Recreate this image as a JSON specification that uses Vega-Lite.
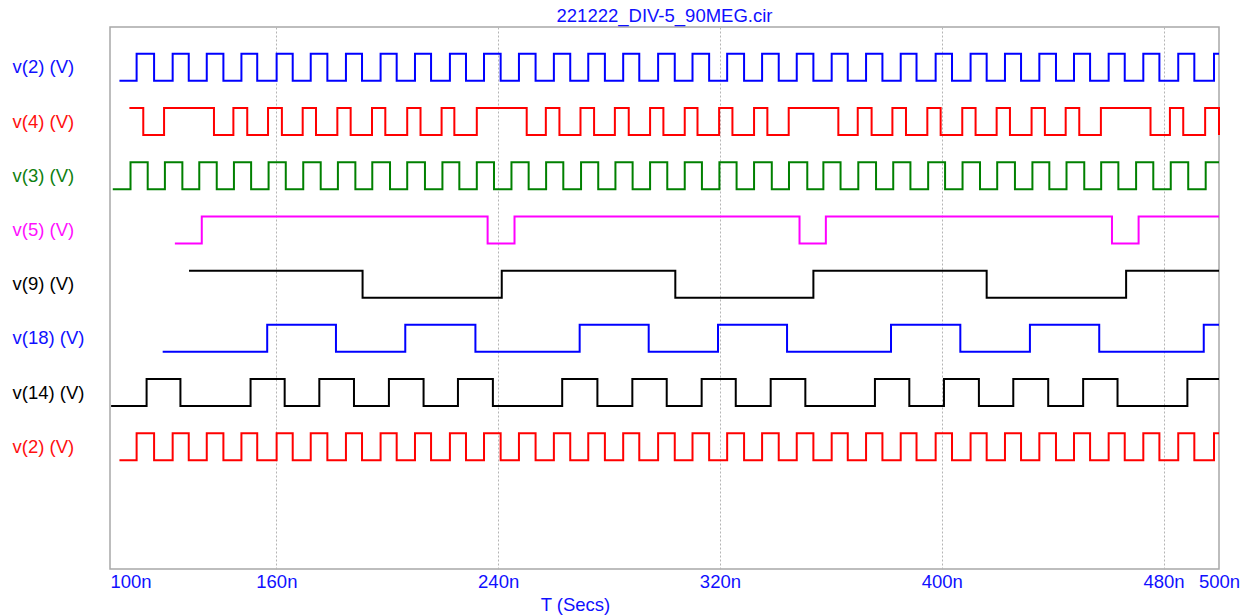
{
  "$schema": "https://vega.github.io/schema/vega-lite/v6.json",
  "width": 1109,
  "height": 542,
  "autosize": {"type": "none"},
  "padding": {"left": 110, "top": 27, "right": 33, "bottom": 47},
  "background": "white",
  "config": {
    "font": "Liberation Sans",
    "view": {"stroke": "#a8a8a8", "strokeWidth": 1.5}
  },
  "title": {
    "text": "221222_DIV-5_90MEG.cir",
    "color": "#1010ff",
    "fontSize": 18.5,
    "fontWeight": "normal",
    "anchor": "middle",
    "offset": 2
  },
  "data": {
    "values": [
      {"s":"t1","t":103.4,"v":0},{"s":"t1","t":109.6,"v":1},{"s":"t1","t":115.9,"v":0},{"s":"t1","t":122.6,"v":1},{"s":"t1","t":128.4,"v":0},{"s":"t1","t":134.9,"v":1},{"s":"t1","t":140.9,"v":0},{"s":"t1","t":147.4,"v":1},{"s":"t1","t":153.1,"v":0},{"s":"t1","t":160.1,"v":1},{"s":"t1","t":165.9,"v":0},{"s":"t1","t":172.4,"v":1},{"s":"t1","t":178.4,"v":0},{"s":"t1","t":185.1,"v":1},{"s":"t1","t":190.9,"v":0},{"s":"t1","t":197.6,"v":1},{"s":"t1","t":203.4,"v":0},{"s":"t1","t":210.0,"v":1},{"s":"t1","t":215.8,"v":0},{"s":"t1","t":222.6,"v":1},{"s":"t1","t":228.4,"v":0},{"s":"t1","t":234.9,"v":1},{"s":"t1","t":240.9,"v":0},{"s":"t1","t":247.5,"v":1},{"s":"t1","t":253.5,"v":0},{"s":"t1","t":260.1,"v":1},{"s":"t1","t":266.0,"v":0},{"s":"t1","t":272.5,"v":1},{"s":"t1","t":278.5,"v":0},{"s":"t1","t":285.1,"v":1},{"s":"t1","t":290.9,"v":0},{"s":"t1","t":297.7,"v":1},{"s":"t1","t":303.7,"v":0},{"s":"t1","t":310.1,"v":1},{"s":"t1","t":316.1,"v":0},{"s":"t1","t":322.6,"v":1},{"s":"t1","t":328.7,"v":0},{"s":"t1","t":335.2,"v":1},{"s":"t1","t":341.2,"v":0},{"s":"t1","t":347.7,"v":1},{"s":"t1","t":353.7,"v":0},{"s":"t1","t":360.3,"v":1},{"s":"t1","t":366.1,"v":0},{"s":"t1","t":372.7,"v":1},{"s":"t1","t":378.6,"v":0},{"s":"t1","t":385.2,"v":1},{"s":"t1","t":390.9,"v":0},{"s":"t1","t":397.8,"v":1},{"s":"t1","t":403.7,"v":0},{"s":"t1","t":410.4,"v":1},{"s":"t1","t":416.2,"v":0},{"s":"t1","t":422.8,"v":1},{"s":"t1","t":428.6,"v":0},{"s":"t1","t":435.2,"v":1},{"s":"t1","t":441.2,"v":0},{"s":"t1","t":447.7,"v":1},{"s":"t1","t":453.5,"v":0},{"s":"t1","t":460.2,"v":1},{"s":"t1","t":466.0,"v":0},{"s":"t1","t":472.7,"v":1},{"s":"t1","t":478.5,"v":0},{"s":"t1","t":485.3,"v":1},{"s":"t1","t":491.1,"v":0},{"s":"t1","t":498.2,"v":1},{"s":"t1","t":500,"v":1},

      {"s":"t2","t":107.0,"v":1},{"s":"t2","t":112.0,"v":0},{"s":"t2","t":119.5,"v":1},{"s":"t2","t":137.5,"v":0},{"s":"t2","t":144.5,"v":1},{"s":"t2","t":149.5,"v":0},{"s":"t2","t":157.0,"v":1},{"s":"t2","t":162.0,"v":0},{"s":"t2","t":169.5,"v":1},{"s":"t2","t":174.3,"v":0},{"s":"t2","t":182.0,"v":1},{"s":"t2","t":186.8,"v":0},{"s":"t2","t":194.5,"v":1},{"s":"t2","t":199.3,"v":0},{"s":"t2","t":207.2,"v":1},{"s":"t2","t":212.0,"v":0},{"s":"t2","t":219.6,"v":1},{"s":"t2","t":224.2,"v":0},{"s":"t2","t":232.3,"v":1},{"s":"t2","t":250.3,"v":0},{"s":"t2","t":257.2,"v":1},{"s":"t2","t":262.1,"v":0},{"s":"t2","t":269.7,"v":1},{"s":"t2","t":274.6,"v":0},{"s":"t2","t":282.1,"v":1},{"s":"t2","t":287.1,"v":0},{"s":"t2","t":294.8,"v":1},{"s":"t2","t":299.6,"v":0},{"s":"t2","t":307.3,"v":1},{"s":"t2","t":311.9,"v":0},{"s":"t2","t":319.7,"v":1},{"s":"t2","t":324.5,"v":0},{"s":"t2","t":332.3,"v":1},{"s":"t2","t":337.1,"v":0},{"s":"t2","t":344.8,"v":1},{"s":"t2","t":362.7,"v":0},{"s":"t2","t":369.7,"v":1},{"s":"t2","t":374.7,"v":0},{"s":"t2","t":382.2,"v":1},{"s":"t2","t":387.1,"v":0},{"s":"t2","t":394.8,"v":1},{"s":"t2","t":399.6,"v":0},{"s":"t2","t":407.4,"v":1},{"s":"t2","t":412.2,"v":0},{"s":"t2","t":419.8,"v":1},{"s":"t2","t":424.6,"v":0},{"s":"t2","t":432.4,"v":1},{"s":"t2","t":437.2,"v":0},{"s":"t2","t":444.7,"v":1},{"s":"t2","t":449.6,"v":0},{"s":"t2","t":457.4,"v":1},{"s":"t2","t":475.3,"v":0},{"s":"t2","t":482.3,"v":1},{"s":"t2","t":487.1,"v":0},{"s":"t2","t":495.0,"v":1},{"s":"t2","t":500,"v":0},

      {"s":"t3","t":101.0,"v":0},{"s":"t3","t":107.4,"v":1},{"s":"t3","t":113.6,"v":0},{"s":"t3","t":119.8,"v":1},{"s":"t3","t":126.1,"v":0},{"s":"t3","t":132.2,"v":1},{"s":"t3","t":138.5,"v":0},{"s":"t3","t":144.7,"v":1},{"s":"t3","t":150.9,"v":0},{"s":"t3","t":157.2,"v":1},{"s":"t3","t":163.4,"v":0},{"s":"t3","t":169.7,"v":1},{"s":"t3","t":176.0,"v":0},{"s":"t3","t":182.2,"v":1},{"s":"t3","t":188.5,"v":0},{"s":"t3","t":194.6,"v":1},{"s":"t3","t":201.0,"v":0},{"s":"t3","t":207.2,"v":1},{"s":"t3","t":213.6,"v":0},{"s":"t3","t":219.9,"v":1},{"s":"t3","t":226.0,"v":0},{"s":"t3","t":232.3,"v":1},{"s":"t3","t":238.5,"v":0},{"s":"t3","t":244.8,"v":1},{"s":"t3","t":251.0,"v":0},{"s":"t3","t":257.3,"v":1},{"s":"t3","t":263.5,"v":0},{"s":"t3","t":269.9,"v":1},{"s":"t3","t":276.1,"v":0},{"s":"t3","t":282.3,"v":1},{"s":"t3","t":288.5,"v":0},{"s":"t3","t":294.8,"v":1},{"s":"t3","t":301.0,"v":0},{"s":"t3","t":307.3,"v":1},{"s":"t3","t":313.5,"v":0},{"s":"t3","t":319.8,"v":1},{"s":"t3","t":326.0,"v":0},{"s":"t3","t":332.3,"v":1},{"s":"t3","t":338.7,"v":0},{"s":"t3","t":344.9,"v":1},{"s":"t3","t":351.5,"v":0},{"s":"t3","t":357.3,"v":1},{"s":"t3","t":363.5,"v":0},{"s":"t3","t":369.9,"v":1},{"s":"t3","t":376.3,"v":0},{"s":"t3","t":382.5,"v":1},{"s":"t3","t":388.7,"v":0},{"s":"t3","t":395.1,"v":1},{"s":"t3","t":401.2,"v":0},{"s":"t3","t":407.5,"v":1},{"s":"t3","t":413.8,"v":0},{"s":"t3","t":420.0,"v":1},{"s":"t3","t":426.4,"v":0},{"s":"t3","t":432.7,"v":1},{"s":"t3","t":438.8,"v":0},{"s":"t3","t":445.0,"v":1},{"s":"t3","t":451.4,"v":0},{"s":"t3","t":457.5,"v":1},{"s":"t3","t":463.7,"v":0},{"s":"t3","t":470.1,"v":1},{"s":"t3","t":476.3,"v":0},{"s":"t3","t":482.6,"v":1},{"s":"t3","t":488.9,"v":0},{"s":"t3","t":495.2,"v":1},{"s":"t3","t":500,"v":1},

      {"s":"t4","t":123.4,"v":0},{"s":"t4","t":133.1,"v":1},{"s":"t4","t":236.2,"v":0},{"s":"t4","t":245.9,"v":1},{"s":"t4","t":348.7,"v":0},{"s":"t4","t":358.2,"v":1},{"s":"t4","t":461.4,"v":0},{"s":"t4","t":471.0,"v":1},{"s":"t4","t":500,"v":1},

      {"s":"t5","t":128.5,"v":1},{"s":"t5","t":191.1,"v":0},{"s":"t5","t":241.3,"v":1},{"s":"t5","t":303.9,"v":0},{"s":"t5","t":353.7,"v":1},{"s":"t5","t":416.2,"v":0},{"s":"t5","t":466.5,"v":1},{"s":"t5","t":500,"v":1},

      {"s":"t6","t":119.0,"v":0},{"s":"t6","t":156.7,"v":1},{"s":"t6","t":181.5,"v":0},{"s":"t6","t":206.5,"v":1},{"s":"t6","t":231.8,"v":0},{"s":"t6","t":269.4,"v":1},{"s":"t6","t":294.3,"v":0},{"s":"t6","t":319.3,"v":1},{"s":"t6","t":344.2,"v":0},{"s":"t6","t":381.7,"v":1},{"s":"t6","t":406.7,"v":0},{"s":"t6","t":431.8,"v":1},{"s":"t6","t":456.8,"v":0},{"s":"t6","t":494.5,"v":1},{"s":"t6","t":500,"v":1},

      {"s":"t7","t":100.4,"v":0},{"s":"t7","t":113.2,"v":1},{"s":"t7","t":125.4,"v":0},{"s":"t7","t":150.7,"v":1},{"s":"t7","t":163.0,"v":0},{"s":"t7","t":175.5,"v":1},{"s":"t7","t":188.0,"v":0},{"s":"t7","t":200.6,"v":1},{"s":"t7","t":213.1,"v":0},{"s":"t7","t":225.5,"v":1},{"s":"t7","t":238.1,"v":0},{"s":"t7","t":263.1,"v":1},{"s":"t7","t":275.8,"v":0},{"s":"t7","t":288.4,"v":1},{"s":"t7","t":300.8,"v":0},{"s":"t7","t":313.4,"v":1},{"s":"t7","t":325.7,"v":0},{"s":"t7","t":338.3,"v":1},{"s":"t7","t":350.8,"v":0},{"s":"t7","t":375.9,"v":1},{"s":"t7","t":388.3,"v":0},{"s":"t7","t":400.8,"v":1},{"s":"t7","t":413.4,"v":0},{"s":"t7","t":425.8,"v":1},{"s":"t7","t":438.4,"v":0},{"s":"t7","t":451.0,"v":1},{"s":"t7","t":463.4,"v":0},{"s":"t7","t":488.6,"v":1},{"s":"t7","t":500,"v":1},

      {"s":"t8","t":103.4,"v":0},{"s":"t8","t":109.6,"v":1},{"s":"t8","t":115.9,"v":0},{"s":"t8","t":122.6,"v":1},{"s":"t8","t":128.4,"v":0},{"s":"t8","t":134.9,"v":1},{"s":"t8","t":140.9,"v":0},{"s":"t8","t":147.4,"v":1},{"s":"t8","t":153.1,"v":0},{"s":"t8","t":160.1,"v":1},{"s":"t8","t":165.9,"v":0},{"s":"t8","t":172.4,"v":1},{"s":"t8","t":178.4,"v":0},{"s":"t8","t":185.1,"v":1},{"s":"t8","t":190.9,"v":0},{"s":"t8","t":197.6,"v":1},{"s":"t8","t":203.4,"v":0},{"s":"t8","t":210.0,"v":1},{"s":"t8","t":215.8,"v":0},{"s":"t8","t":222.6,"v":1},{"s":"t8","t":228.4,"v":0},{"s":"t8","t":234.9,"v":1},{"s":"t8","t":240.9,"v":0},{"s":"t8","t":247.5,"v":1},{"s":"t8","t":253.5,"v":0},{"s":"t8","t":260.1,"v":1},{"s":"t8","t":266.0,"v":0},{"s":"t8","t":272.5,"v":1},{"s":"t8","t":278.5,"v":0},{"s":"t8","t":285.1,"v":1},{"s":"t8","t":290.9,"v":0},{"s":"t8","t":297.7,"v":1},{"s":"t8","t":303.7,"v":0},{"s":"t8","t":310.1,"v":1},{"s":"t8","t":316.1,"v":0},{"s":"t8","t":322.6,"v":1},{"s":"t8","t":328.7,"v":0},{"s":"t8","t":335.2,"v":1},{"s":"t8","t":341.2,"v":0},{"s":"t8","t":347.7,"v":1},{"s":"t8","t":353.7,"v":0},{"s":"t8","t":360.3,"v":1},{"s":"t8","t":366.1,"v":0},{"s":"t8","t":372.7,"v":1},{"s":"t8","t":378.6,"v":0},{"s":"t8","t":385.2,"v":1},{"s":"t8","t":390.9,"v":0},{"s":"t8","t":397.8,"v":1},{"s":"t8","t":403.7,"v":0},{"s":"t8","t":410.4,"v":1},{"s":"t8","t":416.2,"v":0},{"s":"t8","t":422.8,"v":1},{"s":"t8","t":428.6,"v":0},{"s":"t8","t":435.2,"v":1},{"s":"t8","t":441.2,"v":0},{"s":"t8","t":447.7,"v":1},{"s":"t8","t":453.5,"v":0},{"s":"t8","t":460.2,"v":1},{"s":"t8","t":466.0,"v":0},{"s":"t8","t":472.7,"v":1},{"s":"t8","t":478.5,"v":0},{"s":"t8","t":485.3,"v":1},{"s":"t8","t":491.1,"v":0},{"s":"t8","t":498.2,"v":1},{"s":"t8","t":500,"v":1}
    ]
  },
  "mark": {"type": "line", "interpolate": "step-after", "strokeWidth": 2, "clip": false},
  "encoding": {
    "x": {
      "field": "t",
      "type": "quantitative",
      "scale": {"domain": [100, 500], "nice": false, "zero": false},
      "axis": {
        "values": [100, 160, 240, 320, 400, 480, 500],
        "labelExpr": "datum.value + 'n'",
        "labelColor": "#1010ff",
        "labelFontSize": 18.5,
        "labelAlign": {"expr": "datum.value == 100 ? 'left' : 'center'"},
        "labelBaseline": "top",
        "labelPadding": 3,
        "labelFlush": false,
        "labelOverlap": false,
        "ticks": false,
        "domain": false,
        "grid": true,
        "gridColor": "#b4b4b4",
        "gridDash": [2, 2],
        "gridWidth": 1,
        "gridOpacity": {"expr": "datum.value == 100 || datum.value == 500 ? 0 : 1"},
        "title": "T (Secs)",
        "titleColor": "#1010ff",
        "titleFontSize": 18.5,
        "titleFontWeight": "normal",
        "titleX": 465,
        "titleY": 35,
        "titleBaseline": "middle",
        "titleAlign": "center"
      }
    },
    "y": {
      "field": "s",
      "type": "nominal",
      "scale": {
        "domain": ["t1", "t2", "t3", "t4", "t5", "t6", "t7", "t8"],
        "paddingInner": 0,
        "paddingOuter": 1.012,
        "align": 0.123
      },
      "axis": {
        "labelExpr": "datum.value == 't1' ? 'v(2) (V)' : datum.value == 't2' ? 'v(4) (V)' : datum.value == 't3' ? 'v(3) (V)' : datum.value == 't4' ? 'v(5) (V)' : datum.value == 't5' ? 'v(9) (V)' : datum.value == 't6' ? 'v(18) (V)' : datum.value == 't7' ? 'v(14) (V)' : 'v(2) (V)'",
        "labelColor": {"expr": "datum.value == 't1' || datum.value == 't6' ? '#1010ff' : datum.value == 't2' || datum.value == 't8' ? '#ff1010' : datum.value == 't3' ? '#108010' : datum.value == 't4' ? '#ff10ff' : '#000000'"},
        "labelFontSize": 18.5,
        "labelAlign": "left",
        "labelBaseline": "middle",
        "labelPadding": 98,
        "ticks": false,
        "domain": false,
        "grid": false,
        "title": null
      }
    },
    "yOffset": {
      "field": "v",
      "type": "quantitative",
      "scale": {"domain": [0, 1], "range": [40.5, 13.5]}
    },
    "order": {"field": "t", "type": "quantitative", "sort": "ascending"},
    "color": {
      "field": "s",
      "type": "nominal",
      "scale": {
        "domain": ["t1", "t2", "t3", "t4", "t5", "t6", "t7", "t8"],
        "range": ["#0000ff", "#ff0000", "#008000", "#ff00ff", "#000000", "#0000ff", "#000000", "#ff0000"]
      },
      "legend": null
    }
  }
}
